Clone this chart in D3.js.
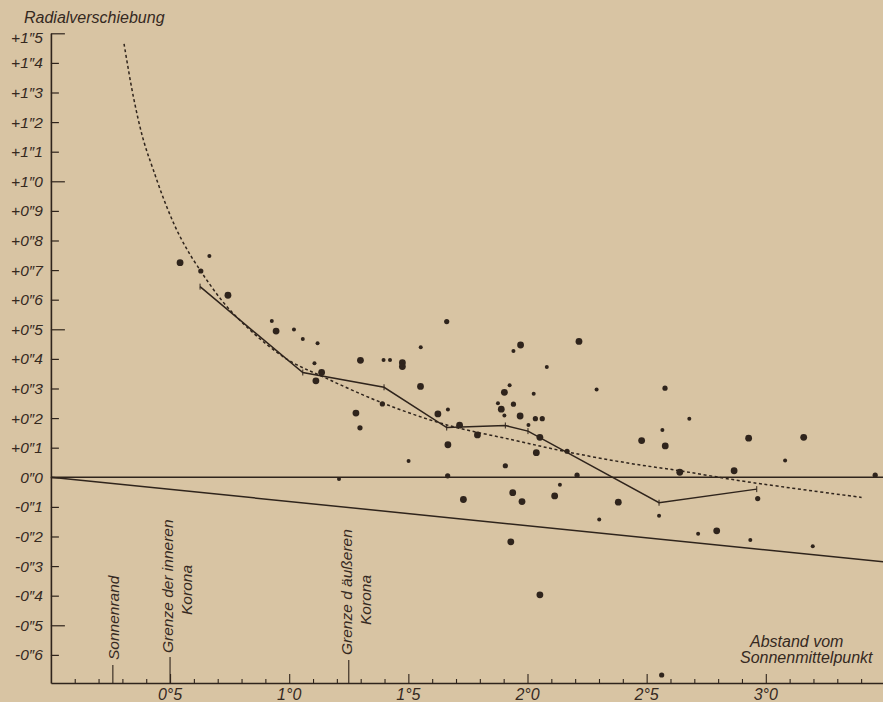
<!DOCTYPE html>
<html>
<head>
<meta charset="utf-8">
<script src="https://cdn.jsdelivr.net/npm/d3@7"></script>
<style>
  html, body { margin: 0; padding: 0; background: #d8c4a3; }
  svg { display: block; }
  text { font-family: "Liberation Sans", "DejaVu Sans", sans-serif; font-style: italic; fill: #35291f; }
</style>
</head>
<body>
<svg id="chart" width="883" height="702"></svg>
<script>
// ---------- DATA ----------
// individual stars: distance from sun centre (degrees), radial shift (arcsec), weight class
const starX = [0.542,0.665,0.629,0.743,0.927,0.945,1.020,1.057,1.119,1.106,1.136,1.112,1.299,1.396,1.423,1.475,1.475,1.552,1.551,1.624,
  1.391,1.280,1.297,1.661,1.666,1.715,1.790,1.666,1.501,1.665,1.731,1.971,1.941,2.216,2.081,1.925,1.903,1.876,1.941,1.890,
  1.903,1.969,2.026,2.004,2.033,2.062,2.052,2.037,1.907,2.166,2.290,2.208,2.136,1.938,1.977,2.114,2.381,2.301,1.930,2.052,
  2.577,2.679,2.566,2.479,2.578,2.928,3.159,3.081,2.639,2.867,3.459,2.966,2.552,2.716,2.794,2.935,3.197,2.563,1.209];
const starY = [0.725,0.748,0.697,0.615,0.528,0.494,0.499,0.467,0.453,0.385,0.354,0.326,0.395,0.396,0.396,0.387,0.374,0.439,0.307,0.214,
  0.248,0.217,0.167,0.526,0.229,0.176,0.143,0.110,0.055,0.005,-0.075,0.447,0.427,0.459,0.373,0.311,0.287,0.250,0.247,0.230,
  0.209,0.207,0.282,0.177,0.198,0.198,0.135,0.083,0.039,0.088,0.297,0.007,-0.025,-0.052,-0.082,-0.063,-0.084,-0.143,-0.218,-0.397,
  0.301,0.198,0.160,0.124,0.106,0.132,0.135,0.057,0.017,0.022,0.007,-0.072,-0.130,-0.191,-0.181,-0.212,-0.233,-0.668,-0.006];
const starWeight = [3,1,2,3,1,3,1,1,1,1,3,3,3,1,1,3,3,1,3,3,
  2,3,2,2,1,3,3,3,1,2,3,3,1,3,1,1,3,1,2,3,
  1,3,1,1,2,2,3,3,2,2,1,2,1,3,3,3,3,1,3,3,
  2,1,1,3,3,3,3,1,3,3,2,2,1,1,3,1,1,2,1];

// mean values (solid polyline)
const meanX = [0.626,1.057,1.398,1.661,1.907,2.002,2.552,2.962];
const meanY = [0.644,0.354,0.304,0.168,0.175,0.156,-0.086,-0.040];

// dashed curve
const curveX = [0.307,0.346,0.388,0.430,0.486,0.542,0.612,0.752,0.975,1.157,1.395,1.661,1.940,2.165,2.430,2.640,2.920,3.402];
const curveY = [1.464,1.286,1.140,1.038,0.914,0.813,0.717,0.565,0.407,0.334,0.250,0.177,0.126,0.086,0.047,0.022,-0.015,-0.068];

// straight reference line through origin
const refLineX = [0, 3.5];
const refLineY = [0, -0.286];

// ticks
const yTickValues = [1.5,1.4,1.3,1.2,1.1,1.0,0.9,0.8,0.7,0.6,0.5,0.4,0.3,0.2,0.1,0.0,-0.1,-0.2,-0.3,-0.4,-0.5,-0.6];
const yTickLabels = ["+1″5","+1″4","+1″3","+1″2","+1″1","+1″0","+0″9","+0″8","+0″7","+0″6","+0″5","+0″4","+0″3","+0″2","+0″1","0″0",
  "-0″1","-0″2","-0″3","-0″4","-0″5","-0″6"];
const yMajor = [1.5, 1.0, 0.5, -0.5];
const xMinorTicks = [0.1,0.2,0.3,0.4,0.5,0.6,0.7,0.8,0.9,1.0,1.1,1.2,1.3,1.4,1.5,1.6,1.7,1.8,1.9,2.0,2.1,2.2,2.3,2.4,2.5,2.6,2.7,2.8,2.9,3.0,3.1,3.2,3.3,3.4];
const xTickValues = [0.5,1.0,1.5,2.0,2.5,3.0];
const xTickLabels = ["0°5","1°0","1°5","2°0","2°5","3°0"];

// annotation markers on the distance axis
const markX = [0.26, 0.5, 1.25];
const markLine1 = ["Sonnenrand", "Grenze der inneren", "Grenze d äußeren"];
const markLine2 = ["", "Korona", "Korona"];

const yTitle = "Radialverschiebung";
const xTitle1 = "Abstand vom";
const xTitle2 = "Sonnenmittelpunkt";

// ---------- DRAW ----------
const ink = "#2f241c";
const svg = d3.select("#chart");
const W = 883, H = 702;

const x = d3.scaleLinear().domain([0, 3.5]).range([50.9, 50.9 + 3.5 * 238.3]);
const y = d3.scaleLinear().domain([-0.695, 1.5]).range([683, 33.3]);
const r = d3.scaleOrdinal().domain([1, 2, 3]).range([2.0, 2.6, 3.4]);

// y axis
const yAxis = d3.axisLeft(y).tickValues(yTickValues).tickSize(-8).tickSizeOuter(0).tickPadding(8)
  .tickFormat((d, i) => yTickLabels[i]);
const gy = svg.append("g").attr("transform", `translate(${x(0)},0)`).call(yAxis);
gy.select(".domain").attr("stroke", ink).attr("stroke-width", 1.6);
gy.selectAll(".tick line").attr("stroke", ink).attr("stroke-width", 1.2)
  .attr("x2", d => yMajor.some(m => Math.abs(m - d) < 1e-9) ? 14 : 8);
gy.selectAll(".tick text").attr("font-size", 15.5).attr("fill", ink)
  .attr("font-family", "Liberation Sans, sans-serif").attr("font-style", "italic")
  .attr("dy", (d, i) => i === 0 ? "0.62em" : "0.32em");

// x axis
const xAxis = d3.axisBottom(x).tickValues(xMinorTicks).tickSize(-4).tickSizeOuter(0).tickFormat("");
const gx = svg.append("g").attr("transform", `translate(0,${y(-0.695)})`).call(xAxis);
gx.select(".domain").attr("stroke", ink).attr("stroke-width", 1.6);
gx.selectAll(".tick line").attr("stroke", ink).attr("stroke-width", 1.1)
  .attr("y2", d => xTickValues.some(m => Math.abs(m - d) < 1e-9) ? -9 : -4);

svg.append("g").selectAll("text").data(xTickValues).join("text")
  .attr("x", d => x(d)).attr("y", y(-0.695) + 17)
  .attr("text-anchor", "middle").attr("font-size", 16)
  .text((d, i) => xTickLabels[i]);

// zero line
svg.append("line").attr("x1", x(0)).attr("x2", W).attr("y1", y(0)).attr("y2", y(0))
  .attr("stroke", ink).attr("stroke-width", 1.5);

// reference line
svg.append("path").datum(refLineX.map((d, i) => [d, refLineY[i]]))
  .attr("d", d3.line().x(d => x(d[0])).y(d => y(d[1])))
  .attr("fill", "none").attr("stroke", ink).attr("stroke-width", 1.5);

// dashed curve
svg.append("path").datum(curveX.map((d, i) => [d, curveY[i]]))
  .attr("d", d3.line().x(d => x(d[0])).y(d => y(d[1])).curve(d3.curveCatmullRom))
  .attr("fill", "none").attr("stroke", ink).attr("stroke-width", 1.5)
  .attr("stroke-dasharray", "3,2.6");

// mean polyline
svg.append("path").datum(meanX.map((d, i) => [d, meanY[i]]))
  .attr("d", d3.line().x(d => x(d[0])).y(d => y(d[1])))
  .attr("fill", "none").attr("stroke", ink).attr("stroke-width", 1.5);

// small vertical tick marks at the mean-value vertices
svg.append("g").selectAll("line").data(meanX.map((d, i) => [d, meanY[i]])).join("line")
  .attr("x1", d => x(d[0])).attr("x2", d => x(d[0]))
  .attr("y1", d => y(d[1]) - 3).attr("y2", d => y(d[1]) + 3)
  .attr("stroke", ink).attr("stroke-width", 1);

// stars
svg.append("g").selectAll("circle").data(starX.map((d, i) => ({ x: d, y: starY[i], w: starWeight[i] }))).join("circle")
  .attr("cx", d => x(d.x)).attr("cy", d => y(d.y)).attr("r", d => r(d.w))
  .attr("fill", ink);

// markers
const base = y(-0.695);
const markLen = [18, 26, 23];
const m1Anchor = [base - 23, base - 30, base - 28];
const m2Center = [0, base - 93, base - 83];
markX.forEach((mx, i) => {
  const px = x(mx);
  svg.append("line").attr("x1", px).attr("x2", px).attr("y1", base).attr("y2", base - markLen[i])
    .attr("stroke", ink).attr("stroke-width", 1.1);
  svg.append("text").attr("transform", `translate(${px + (i === 0 ? 6 : 3)},${m1Anchor[i]}) rotate(-90)`)
    .attr("text-anchor", "start").attr("font-size", 15.5).text(markLine1[i]);
  if (markLine2[i]) {
    svg.append("text").attr("transform", `translate(${px + 22},${m2Center[i]}) rotate(-90)`)
      .attr("text-anchor", "middle").attr("font-size", 15.5).text(markLine2[i]);
  }
});

// titles
svg.append("text").attr("x", 24).attr("y", 23).attr("font-size", 16).text(yTitle);
svg.append("text").attr("x", 750).attr("y", 647).attr("font-size", 16).text(xTitle1);
svg.append("text").attr("x", 740).attr("y", 663).attr("font-size", 16).text(xTitle2);
</script>
</body>
</html>
